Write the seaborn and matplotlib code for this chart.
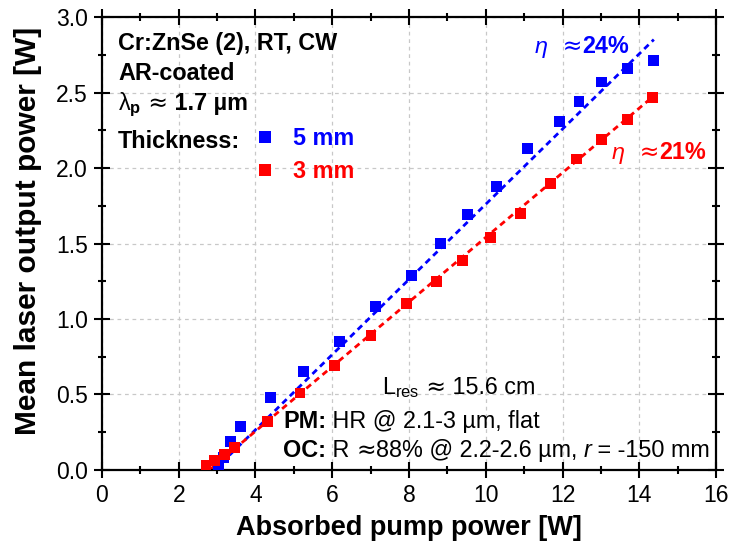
import numpy as np
import pandas as pd
import matplotlib
matplotlib.use("Agg")
import matplotlib.pyplot as plt
from matplotlib.lines import Line2D
from matplotlib.ticker import MultipleLocator
import seaborn as sns

# ---------------- data ----------------
pump_5mm = [3.03, 3.16, 3.36, 3.60, 4.38, 5.25, 6.18, 7.13, 8.07, 8.83, 9.52,
            10.27, 11.09, 11.93, 12.43, 13.02, 13.70, 14.37]
power_5mm = [0.02, 0.08, 0.19, 0.29, 0.48, 0.65, 0.85, 1.08, 1.29, 1.50, 1.69,
             1.88, 2.13, 2.31, 2.44, 2.57, 2.66, 2.71]
pump_3mm = [2.71, 2.94, 3.20, 3.45, 4.31, 5.16, 6.07, 7.01, 7.94, 8.72, 9.40,
            10.13, 10.91, 11.69, 12.37, 13.02, 13.70, 14.35]
power_3mm = [0.03, 0.06, 0.10, 0.15, 0.32, 0.51, 0.69, 0.89, 1.10, 1.25, 1.39,
             1.54, 1.70, 1.90, 2.06, 2.19, 2.32, 2.47]

samples = ["5 mm", "3 mm"]
fit_slope = [0.249, 0.214]       # slope efficiency of the linear fits
fit_threshold = [2.93, 2.80]     # threshold (x-intercept) [W]
fit_xmax = [14.38, 14.45]        # end of the fit line [W]
eta_labels = ["24%", "21%"]

x_ticks = [0, 2, 4, 6, 8, 10, 12, 14, 16]
y_ticks = [0.0, 0.5, 1.0, 1.5, 2.0, 2.5, 3.0]

BLUE = "#0000FF"
RED = "#FF0000"
palette = {"5 mm": BLUE, "3 mm": RED}

# ---------------- style ----------------
sns.set_theme(style="ticks")
plt.rcParams["font.family"] = ["Liberation Sans", "DejaVu Sans"]
plt.rcParams["mathtext.fontset"] = "custom"
plt.rcParams["mathtext.rm"] = "Liberation Sans"
plt.rcParams["mathtext.it"] = "Liberation Sans:italic"
plt.rcParams["mathtext.bf"] = "Liberation Sans:bold"
plt.rcParams["axes.unicode_minus"] = False
for k in ["text.color", "axes.labelcolor", "xtick.color", "ytick.color",
          "axes.edgecolor"]:
    plt.rcParams[k] = "black"

fig = plt.figure(figsize=(7.31, 5.47), dpi=100)
ax = fig.add_axes([0.1395, 0.1408, 0.840, 0.828])

df = pd.DataFrame({
    "pump": pump_5mm + pump_3mm,
    "power": power_5mm + power_3mm,
    "sample": ["5 mm"] * len(pump_5mm) + ["3 mm"] * len(pump_3mm),
})

# linear fits (dashed)
for name, k, th, xm in zip(samples, fit_slope, fit_threshold, fit_xmax):
    xf = np.linspace(th, xm, 60)
    yf = k * (xf - th)
    sns.lineplot(x=xf, y=yf, color=palette[name], lw=2.0,
                 linestyle=(0, (2.2, 1.6)), ax=ax, zorder=2)

sns.scatterplot(data=df, x="pump", y="power", hue="sample", palette=palette,
                marker="s", s=62, edgecolor="none", linewidth=0,
                legend=False, ax=ax, zorder=3)

# ---------------- axes ----------------
ax.set_xlim(0, 16)
ax.set_ylim(0, 3.0)
ax.set_xticks(x_ticks)
ax.set_yticks(y_ticks)
ax.set_xticklabels([str(t) for t in x_ticks])
ax.set_yticklabels([f"{t:.1f}" for t in y_ticks])
ax.xaxis.set_minor_locator(MultipleLocator(1))
ax.yaxis.set_minor_locator(MultipleLocator(0.25))

ax.grid(True, which="major", color="#c8c8c8", linestyle=(0, (3, 3)), lw=0.9)
ax.set_axisbelow(True)

for s in ax.spines.values():
    s.set_linewidth(1.6)
    s.set_color("black")
    s.set_visible(True)

ax.tick_params(which="major", direction="inout", length=12, width=1.5,
               labelsize=16.5, colors="black", pad=4)
ax.tick_params(which="minor", direction="inout", length=6, width=1.5)
ax.tick_params(axis="x", which="both", top=True)
ax.tick_params(axis="y", which="both", right=True)

ax.set_xlabel("Absorbed pump power [W]", fontsize=19.5, fontweight="bold",
              labelpad=6)
ax.set_ylabel("Mean laser output power [W]", fontsize=21.5, fontweight="bold",
              labelpad=10)
ax.yaxis.label.set_y(0.528)

# ---------------- annotations ----------------
tr = ax.transAxes
FS = 16.8
REG = dict()
BOLD = dict(fontweight="bold")
ITAL = dict(fontstyle="italic")
APX = dict(family="DejaVu Sans")


def chain(x, y, pieces, color="black"):
    """Draw consecutive text pieces on one baseline (axes fraction coords)."""
    s, kw = pieces[0]
    t = ax.text(x, y, s, transform=tr, va="baseline", ha="left",
                fontsize=FS, color=color, **kw)
    for s, kw in pieces[1:]:
        t = ax.annotate(s, xy=(1, y), xycoords=(t, tr), va="baseline",
                        ha="left", fontsize=FS, color=color, **kw)
    return t


chain(0.026, 0.927, [("Cr:ZnSe (2), RT, CW", BOLD)])
chain(0.026, 0.861, [("AR-coated", BOLD)])
chain(0.026, 0.795, [(r"λ$_\mathbf{p}$", REG), (" ≈", APX), (" 1.7 µm", BOLD)])
chain(0.026, 0.712, [("Thickness:", BOLD)])

handles = [Line2D([], [], marker="s", ls="", color=palette[n], markersize=8.5,
                  markeredgewidth=0) for n in samples]
ax.legend(handles, samples, loc="upper left", bbox_to_anchor=(0.243, 0.758),
          frameon=False, prop=dict(weight="bold", size=FS),
          labelcolor=[palette[n] for n in samples], handlelength=1.2,
          handletextpad=0.6, labelspacing=0.45, borderpad=0, borderaxespad=0)

chain(0.705, 0.920, [("η", ITAL), ("  ≈", APX), (eta_labels[0], BOLD)],
      color=BLUE)
chain(0.830, 0.686, [("η", ITAL), ("  ≈", APX), (eta_labels[1], BOLD)],
      color=RED)

chain(0.4555, 0.167, [(r"L$_\mathrm{res}$", REG), (" ≈", APX), (" 15.6 cm", REG)])
chain(0.2953, 0.092, [("PM:", BOLD), (" HR @ 2.1-3 µm, flat", REG)])
chain(0.2953, 0.0294, [("OC:", BOLD), (" R ", REG), ("≈", APX),
                       ("88% @ 2.2-2.6 µm, ", REG), ("r", ITAL),
                       (" = -150 mm", REG)])

fig.savefig("out.png", dpi=100)
